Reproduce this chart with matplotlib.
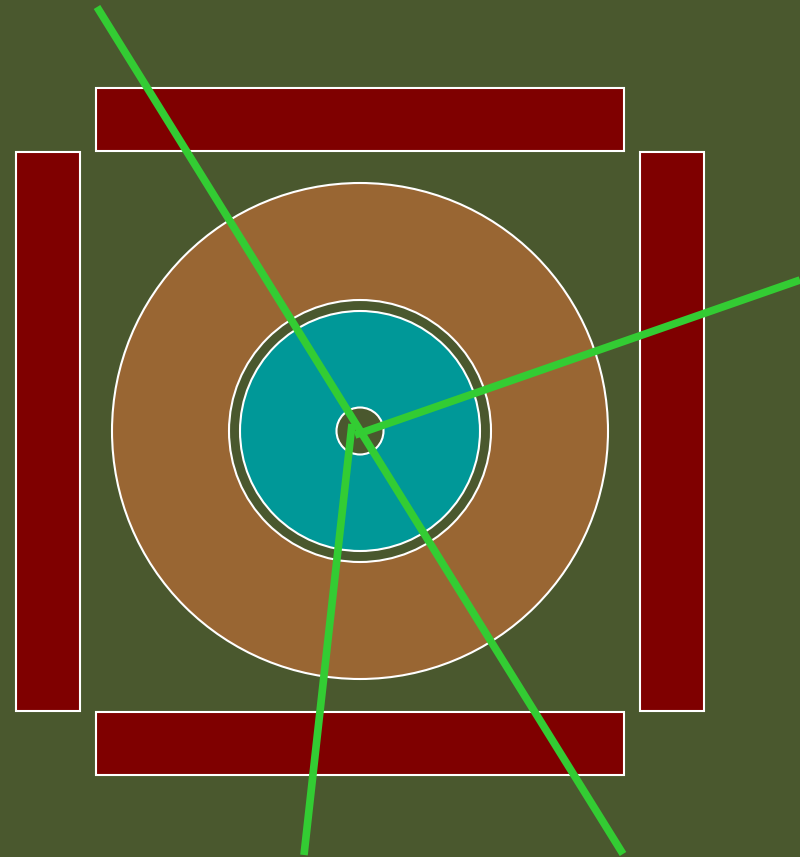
import matplotlib
matplotlib.use("Agg")
import matplotlib.pyplot as plt
from matplotlib.patches import Rectangle, Circle

W, H = 800, 857
BG = "#4a582e"

# rectangles: (x, y, width, height)
rect_x = [96, 16, 640, 96]
rect_y = [88, 152, 152, 712]
rect_w = [528, 64, 64, 528]
rect_h = [63, 559, 559, 63]
rect_color = "#7f0000"

# concentric circles: (radius, fill)
circle_cx, circle_cy = 360, 431
circle_r = [248, 131, 120, 23.5]
circle_fill = ["#996633", BG, "#009898", BG]

# green lines: start and end points
line_x0 = [97, 355, 352]
line_y0 = [7, 435, 424]
line_x1 = [623, 800, 304]
line_y1 = [854, 280, 855]

fig = plt.figure(figsize=(W / 100, H / 100), dpi=100)
fig.patch.set_facecolor(BG)
ax = fig.add_axes([0, 0, 1, 1])
ax.set_facecolor(BG)
ax.set_xlim(0, W)
ax.set_ylim(H, 0)
ax.set_aspect("equal")
ax.axis("off")

for x, y, w, h in zip(rect_x, rect_y, rect_w, rect_h):
    ax.add_patch(Rectangle((x, y), w, h, facecolor=rect_color,
                           edgecolor="white", linewidth=1.5))

for r, c in zip(circle_r, circle_fill):
    ax.add_patch(Circle((circle_cx, circle_cy), r, facecolor=c,
                        edgecolor="white", linewidth=1.5))

for x0, y0, x1, y1 in zip(line_x0, line_y0, line_x1, line_y1):
    ax.plot([x0, x1], [y0, y1], color="#33cc33", linewidth=5.5,
            solid_capstyle="butt")

fig.savefig("out.png", dpi=100, facecolor=BG)
